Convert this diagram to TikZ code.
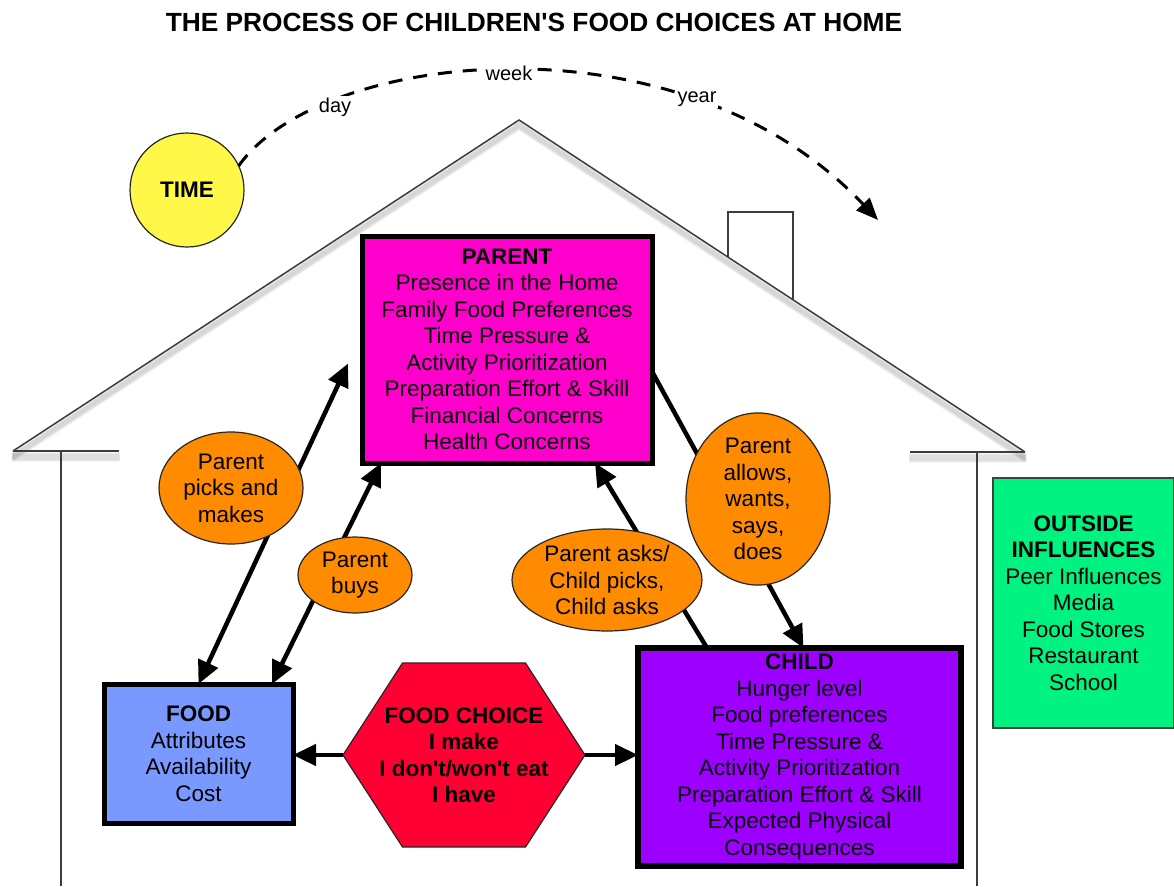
\documentclass[tikz,border=0pt]{standalone}
\usepackage{fontspec}
\setmainfont{Liberation Sans}
\usetikzlibrary{arrows.meta,calc,shapes.geometric}
\pgfdeclarelayer{background}
\pgfsetlayers{background,main}

\definecolor{parentpink}{RGB}{255,0,204}
\definecolor{foodblue}{RGB}{122,153,255}
\definecolor{childpurple}{RGB}{158,0,255}
\definecolor{outsidegreen}{RGB}{0,242,128}
\definecolor{choicered}{RGB}{255,0,51}
\definecolor{bubbleorange}{RGB}{255,140,0}
\definecolor{sunyellow}{RGB}{255,248,72}
\definecolor{housegray}{RGB}{60,60,60}

\begin{document}
\begin{tikzpicture}[x=1pt,y=-1pt,
  txt/.style={font=\fontsize{22.5}{26.5}\selectfont, align=center, inner sep=0pt, outer sep=0pt},
  bigbox/.style={txt, draw=black, line width=5pt, rectangle},
  bubble/.style={txt, ellipse, draw=black!85, line width=1.2pt, fill=bubbleorange},
  link/.style={line width=4.5pt, draw=black},
  tip/.style={-{Triangle[length=23pt,width=21pt]}},
  bothtips/.style={{Triangle[length=23pt,width=21pt]}-{Triangle[length=23pt,width=21pt]}},
  houseline/.style={draw=housegray, line width=1.5pt},
  houseshade/.style={draw=black, line cap=round, line join=round},
  timearc/.style={line width=3pt, dash pattern=on 14pt off 11pt, -{Triangle[length=22pt,width=18pt]}},
  timelabel/.style={font=\fontsize{20}{24}\selectfont, fill=white, inner sep=1.5pt}
]
\useasboundingbox (0,0) rectangle (1174,886);
\begin{pgfonlayer}{background}
  \fill[white] (0,0) rectangle (1174,886);
\end{pgfonlayer}

% title
\node[font=\fontsize{26.3}{30}\selectfont\bfseries] (title) at (534,22) {THE PROCESS OF CHILDREN\textquotesingle S FOOD CHOICES AT HOME};

% house: soft shadow under the roof, then the outline
\foreach \dy in {2,3,...,9}{
  \draw[houseshade, opacity=0.045, line width=3pt]
    (13,451+\dy) -- (519,120+\dy) -- (1025,452+\dy);
  \draw[houseshade, opacity=0.045, line width=3pt] (13,451+\dy) -- (119,451+\dy);
  \draw[houseshade, opacity=0.045, line width=3pt] (910,452+\dy) -- (1025,452+\dy);
}
\draw[houseline] (13,451) -- (519,120) -- (1025,452);
\draw[houseline] (13,451) -- (119,451);
\draw[houseline] (910,452) -- (1025,452);
\draw[houseline] (61,451) -- (61,886);
\draw[houseline] (977,452) -- (977,886);
\draw[houseline] (728,257) -- (728,212) -- (793,212) -- (793,300);

% time
\node[txt, circle, draw=black!85, line width=1.2pt, fill=sunyellow, minimum size=114pt, font=\fontsize{22.5}{26.5}\selectfont\bfseries] (time) at (187,190) {TIME};
\coordinate (later) at (878,220);
\draw[timearc] (time.25) .. controls (320,50) and (680,10) .. (later);
\node[timelabel] (day) at (335,107) {day};
\node[timelabel] (week) at (509,73) {week};
\node[timelabel] (year) at (697,99) {year};

% main boxes
\node[bigbox, fill=parentpink, minimum width=290pt, minimum height=227pt] (parent) at (507,349.5)
  {\textbf{PARENT}\\Presence in the Home\\Family Food Preferences\\Time Pressure \&\\Activity Prioritization\\Preparation Effort \& Skill\\Financial Concerns\\Health Concerns};
\node[bigbox, fill=foodblue, minimum width=189pt, minimum height=139pt] (food) at (198.5,753.5)
  {\textbf{FOOD}\\Attributes\\Availability\\Cost};
\node[bigbox, fill=childpurple, line width=6pt, minimum width=323pt, minimum height=218pt] (child) at (799.5,757)
  {\textbf{CHILD}\\Hunger level\\Food preferences\\Time Pressure \&\\Activity Prioritization\\Preparation Effort \& Skill\\Expected Physical\\Consequences};
\node[txt, draw=black!75, line width=1.2pt, fill=outsidegreen, minimum width=181pt, minimum height=250pt] (outside) at (1083.5,603)
  {\textbf{OUTSIDE}\\\textbf{INFLUENCES}\\Peer Influences\\Media\\Food Stores\\Restaurant\\School};

% food choice hexagon
\node[txt, minimum width=242pt, minimum height=184pt, font=\fontsize{22.5}{26.5}\selectfont\bfseries] (choice) at (464,755)
  {FOOD CHOICE\\I make\\I don\textquotesingle t/won\textquotesingle t eat\\I have};
\begin{pgfonlayer}{background}
  \draw[fill=choicered, draw=black!85, line width=1.2pt]
    ($(choice.north)+(-61.5,0)$) -- ($(choice.north)+(61.5,0)$) -- (choice.east)
    -- ($(choice.south)+(61.5,0)$) -- ($(choice.south)+(-61.5,0)$) -- (choice.west) -- cycle;
\end{pgfonlayer}

% connectors
\draw[link, bothtips] (food.north) -- ($(parent.west)+(-14,14)$);
\draw[link, bothtips] ($(food.north east)+(-21,0)$) -- ($(parent.south west)+(19,0)$);
\draw[link, tip] ($(child.north west)+(69,0)$) -- ($(parent.south)+(88,0)$);
\draw[link, tip] ($(parent.east)+(0,22)$) -- ($(child.north)+(4,0)$);
\draw[link, tip] (choice.west) -- (choice.west -| food.east);
\draw[link, tip] (choice.east) -- (choice.east -| child.west);

% labels on the connectors
\node[bubble, minimum width=144pt, minimum height=112pt] (picks) at (231,488) {Parent\\picks and\\makes};
\node[bubble, minimum width=114pt, minimum height=76pt] (buys) at (355,575) {Parent\\buys};
\node[bubble, minimum width=190pt, minimum height=102pt] (asks) at (607,580) {Parent asks/\\Child picks,\\Child asks};
\node[bubble, minimum width=144pt, minimum height=172pt] (allows) at (758,499) {Parent\\allows,\\wants,\\says,\\does};
\end{tikzpicture}
\end{document}
